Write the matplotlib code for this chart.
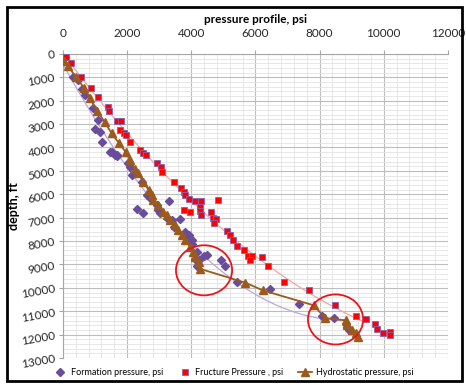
import numpy as np
import matplotlib
matplotlib.use("Agg")
import matplotlib.pyplot as plt
from matplotlib.patches import Ellipse, Rectangle

plt.rcParams['font.family'] = ['Lato', 'DejaVu Sans']

# formation pressure (psi) vs depth (ft)
form_p = [60, 320, 480, 585, 690, 950, 1100, 1000, 1160, 1210, 1470, 1520, 1620, 1690,
          1680, 2040, 2090, 2150, 2460, 2610, 2720, 2930, 2980, 3030, 3320, 2300, 2510,
          3290, 3400, 3660, 3450, 3810, 3920, 3860, 4020, 4020, 4180, 4120, 4230, 4180,
          4390, 4490, 4930, 5060, 5430, 6470, 7350, 8080, 8450, 8810, 8860, 8920]
form_d = [115, 970, 1110, 1510, 1760, 2330, 2830, 3220, 3330, 3760, 4180, 4180, 4330, 4370,
          4330, 4680, 4830, 5180, 5470, 6040, 6180, 6470, 6680, 6820, 6280, 6650, 6800,
          7040, 7110, 7040, 7400, 7610, 7750, 7970, 7970, 8110, 8470, 8750, 8820, 9080,
          8650, 8580, 8790, 9060, 9750, 10060, 10700, 11200, 11300, 11530, 11680, 11820]

# fracture pressure
frac_p = [95, 250, 560, 875, 1100, 1420, 1440, 1690, 1800, 1780, 1890, 1980, 2080, 2400,
          2510, 2580, 2940, 3070, 3080, 3470, 3690, 3770, 3810, 3920, 4120, 4310, 4820,
          4260, 4280, 4300, 3760, 3970, 4620, 4680, 4780, 4700, 5110, 5220, 5290, 5430,
          5650, 5760, 5900, 5820, 6210, 6380, 6890, 7670, 8470, 9125, 9440, 9730, 9800,
          9980, 10190, 10190]
frac_d = [140, 400, 970, 1470, 1830, 2280, 2420, 2860, 2860, 3250, 3400, 3470, 3780, 4120,
          4220, 4320, 4680, 4840, 5040, 5490, 5740, 5900, 6040, 6210, 6300, 6290, 6250,
          6560, 6710, 6880, 6680, 6750, 6750, 7000, 7040, 7220, 7560, 7750, 7950, 8200,
          8380, 8650, 8650, 8820, 8680, 9080, 9750, 10080, 10720, 11220, 11350, 11530, 11750,
          11920, 11890, 12030]

# hydrostatic pressure
hyd_p = [30, 150, 410, 670, 840, 1070, 1310, 1520, 1740, 1960, 2090, 2250, 2350, 2510,
         2670, 2770, 2820, 2980, 3130, 3240, 3340, 3500, 3600, 3710, 3810, 3970, 4060,
         4130, 4230, 4260, 5690, 6240, 7830, 8170, 8830, 8860, 9000, 9125, 9200]
hyd_d = [290, 500, 1000, 1470, 1900, 2440, 2930, 3400, 3800, 4200, 4540, 4900, 5110, 5470,
         5820, 6040, 6250, 6470, 6750, 6900, 7110, 7320, 7540, 7750, 7970, 8250, 8470,
         8680, 8890, 9180, 9780, 10110, 10750, 11290, 11390, 11600, 11820, 11930, 12080]

fig = plt.figure(figsize=(4.66, 3.85), dpi=100)
ax = fig.add_axes([0.135, 0.07, 0.826, 0.79])

# trendlines (poly fit, depth as function of pressure)
cf = np.polyfit(frac_p, frac_d, 2)
pp = np.linspace(0, 9450, 200)
ax.plot(pp, np.polyval(cf, pp), color='#f4a3a3', lw=0.9, zorder=2)
cfo = np.polyfit(form_p, form_d, 2)
pp2 = np.linspace(0, 8900, 200)
ax.plot(pp2, np.polyval(cfo, pp2), color='#b7a8dc', lw=0.9, zorder=2)

ax.plot(form_p, form_d, ls='none', marker='D', ms=3.6, color='#6a4c9c',
        mec='#6a4c9c', label='Formation pressure, psi', zorder=3)
ax.plot(frac_p, frac_d, ls='none', marker='s', ms=4.6, color='#ff0000',
        mec='#8a62b0', mew=0.6, label='Fructure Pressure , psi', zorder=3)
ax.plot(hyd_p, hyd_d, color='#9c5a1c', lw=1.3, marker='^', ms=5.2,
        mec='#9c5a1c', label='Hydrostatic pressure, psi', zorder=4)

ax.add_patch(Ellipse((4400, 9250), 1750, 2140, fill=False, ec='#e8161b', lw=1.3, zorder=5))
ax.add_patch(Ellipse((8500, 11350), 1720, 2140, fill=False, ec='#e8161b', lw=1.3, zorder=5))

ax.set_xlim(0, 12000)
ax.set_ylim(13000, 0)
ax.xaxis.tick_top()
ax.xaxis.set_label_position('top')
ax.set_xticks(np.arange(0, 12001, 2000))
ax.set_xticks(np.arange(0, 12001, 400), minor=True)
ax.set_yticks(np.arange(0, 13001, 1000))
ax.set_yticks(np.arange(0, 13001, 200), minor=True)
ax.grid(which='major', color='#bdbdbd', lw=0.8)
ax.grid(which='minor', color='#e3e3e3', lw=0.6)
ax.set_axisbelow(True)
for s in ['right', 'bottom']:
    ax.spines[s].set_visible(False)
for s in ['left', 'top']:
    ax.spines[s].set_color('#a6a6a6')
ax.tick_params(which='major', direction='out', length=3, color='#a6a6a6',
               labelsize=8.5, labelcolor='#262626', pad=2)
ax.tick_params(axis='x', which='major', pad=8)
ax.tick_params(which='minor', length=0)
for lab in ax.get_yticklabels():
    lab.set_rotation(10)

ax.set_xlabel('pressure profile, psi', fontsize=8.5, fontweight='bold', labelpad=3)
ax.set_ylabel('depth, ft', fontsize=9, fontweight='bold', labelpad=0)

fig.legend(loc='lower center', bbox_to_anchor=(0.5, 0.0), ncol=3, frameon=False,
           fontsize=6.5, handlelength=1.6, columnspacing=1.6, handletextpad=0.4)

fig.patches.append(Rectangle((0.014, 0.01), 0.978, 0.972, transform=fig.transFigure,
                             fill=False, ec='black', lw=2))

fig.savefig('out.png', dpi=100)
